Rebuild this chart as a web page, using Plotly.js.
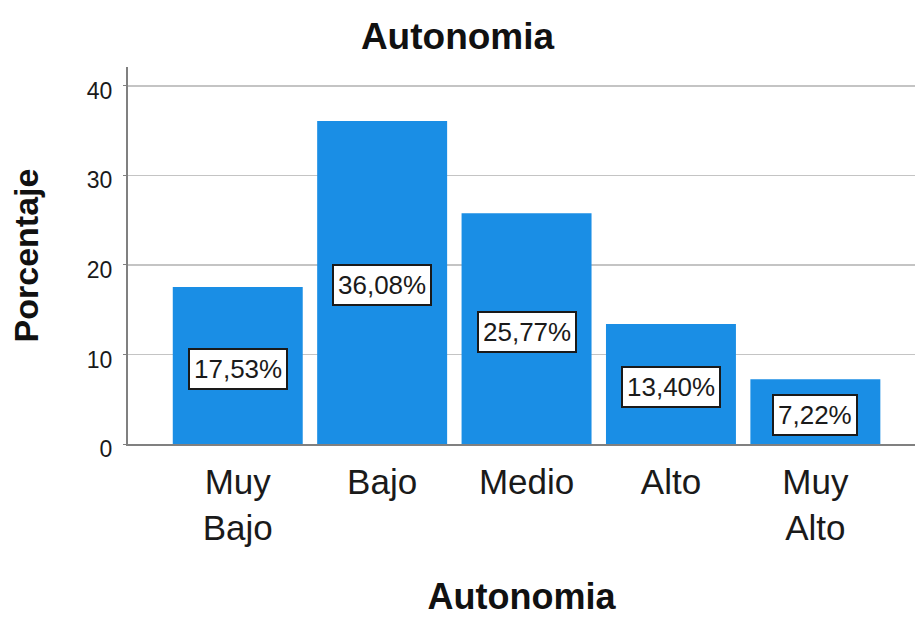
<!DOCTYPE html>
<html>
<head>
<meta charset="utf-8">
<script src="https://cdn.plot.ly/plotly-3.0.1.min.js"></script>
<style>html,body{margin:0;padding:0;background:#fff;}#chart{width:915px;height:617px;}</style>
</head>
<body>
<div id="chart"></div>
<script>
var categories = ["Muy<br>Bajo", "Bajo", "Medio", "Alto", "Muy<br>Alto"];
var percentages = [17.53, 36.08, 25.77, 13.40, 7.22];
var yTicks = [0, 10, 20, 30, 40];
var chartTitle = "Autonomia";
var xTitle = "Autonomia";
var yTitle = "Porcentaje";

var FONT = "Liberation Sans, Arial, sans-serif";
var idx = categories.map(function(_, i){ return i; });

var trace = {
  type: "bar",
  x: idx,
  y: percentages,
  marker: {color: "#1a8ee5", line: {width: 0}},
  hoverinfo: "none"
};

var annotations = percentages.map(function(v, i){
  return {
    x: i, y: v / 2, xref: "x", yref: "y",
    text: v.toFixed(2).replace(".", ",") + "%",
    showarrow: false,
    yshift: -3,
    font: {family: FONT, size: 26, color: "#1a1a1a"},
    bgcolor: "#ffffff",
    bordercolor: "#1a1a1a",
    borderwidth: 2,
    borderpad: 4
  };
});

var layout = {
  width: 915, height: 617,
  margin: {l: 128, r: 0, t: 67, b: 173, pad: 0},
  paper_bgcolor: "#ffffff",
  plot_bgcolor: "#ffffff",
  showlegend: false,
  bargap: 0.1,
  title: {
    text: chartTitle,
    font: {family: FONT, size: 37, color: "#111", weight: "bold"},
    x: 0.5, xref: "container", xanchor: "center",
    y: 1 - 36 / 617, yref: "container", yanchor: "middle"
  },
  xaxis: {
    tickmode: "array",
    tickvals: idx,
    ticktext: categories,
    range: [-0.76, 4.69],
    showgrid: false,
    zeroline: false,
    showline: true,
    linecolor: "#808080",
    linewidth: 2,
    ticks: "",
    tickfont: {family: FONT, size: 35, color: "#1a1a1a"},
    ticklabelstandoff: 6,
    automargin: false,
    title: {
      text: xTitle,
      font: {family: FONT, size: 36, color: "#111", weight: "bold"},
      standoff: 43
    }
  },
  yaxis: {
    range: [0, 42.1],
    tickmode: "array",
    tickvals: yTicks,
    ticktext: yTicks.map(String),
    showgrid: true,
    gridcolor: "#c4c4c4",
    gridwidth: 1.5,
    zeroline: false,
    showline: true,
    linecolor: "#808080",
    linewidth: 2,
    ticks: "outside",
    ticklen: 3,
    tickcolor: "#808080",
    tickfont: {family: FONT, size: 23, color: "#1a1a1a"},
    ticklabelstandoff: 6,
    ticklabelshift: 5,
    automargin: false,
    title: {
      text: yTitle,
      font: {family: FONT, size: 34, color: "#111", weight: "bold"},
      standoff: 38
    }
  },
  annotations: annotations
};

Plotly.newPlot("chart", [trace], layout, {staticPlot: true, displayModeBar: false});
</script>
</body>
</html>
